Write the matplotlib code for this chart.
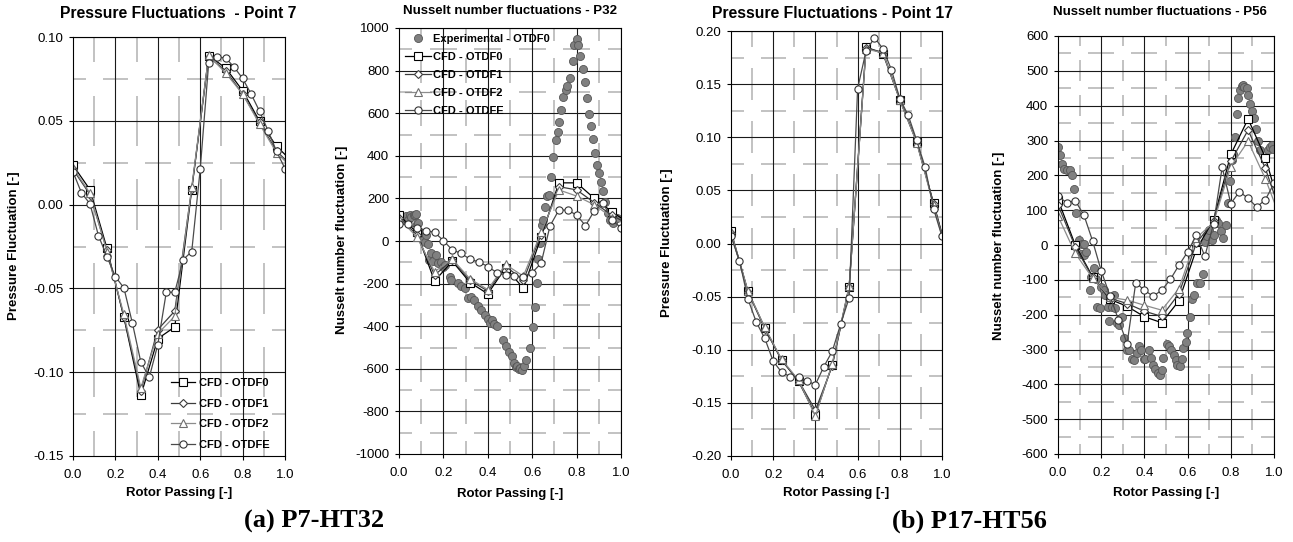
import numpy as np
import matplotlib
matplotlib.use("Agg")
import matplotlib.pyplot as plt
from matplotlib.collections import LineCollection

plt.rcParams['font.family'] = ['Liberation Sans', 'DejaVu Sans']

# ---------------- data ----------------
X_CFD = [0.00, 0.08, 0.16, 0.24, 0.32, 0.40, 0.48, 0.56, 0.64, 0.72, 0.80, 0.88, 0.96, 1.04]
X_E = [0.00, 0.04, 0.08, 0.12, 0.16, 0.20, 0.24, 0.28, 0.32, 0.36, 0.40, 0.44, 0.48,
       0.52, 0.56, 0.60, 0.64, 0.68, 0.72, 0.76, 0.80, 0.84, 0.88, 0.92, 0.96, 1.00]

# Panel 1: Pressure fluctuations - Point 7
P7_OTDF0 = [0.0235, 0.0089, -0.0260, -0.0672, -0.1139, -0.0800, -0.0730, 0.0089, 0.0889, 0.0815, 0.0680, 0.0497, 0.0348, 0.0250]
P7_OTDF1 = [0.0210, 0.0060, -0.0270, -0.0670, -0.1110, -0.0746, -0.0635, 0.0095, 0.0880, 0.0800, 0.0660, 0.0490, 0.0320, 0.0220]
P7_OTDF2 = [0.0220, 0.0068, -0.0280, -0.0655, -0.1093, -0.0770, -0.0666, 0.0103, 0.0890, 0.0785, 0.0660, 0.0480, 0.0310, 0.0210]
P7_OTDFE = [0.0195, 0.0070, 0.0005, -0.0185, -0.0310, -0.0430, -0.0497, -0.0706, -0.0940, -0.1030, -0.0835, -0.0523, -0.0523,
            -0.0328, -0.0280, 0.0210, 0.0845, 0.0880, 0.0875, 0.0820, 0.0753, 0.0660, 0.0557, 0.0441, 0.0318, 0.0215]

# Panel 2: Nusselt number fluctuations - P32
P32_EXP_X = [0.000, 0.021, 0.030, 0.041, 0.051, 0.056, 0.066, 0.071, 0.075, 0.081, 0.086, 0.093, 0.104, 0.108, 0.116, 0.120,
             0.131, 0.135, 0.146, 0.153, 0.168, 0.176, 0.191, 0.200, 0.206, 0.229, 0.236, 0.266, 0.281, 0.296, 0.311, 0.326,
             0.337, 0.356, 0.371, 0.386, 0.402, 0.410, 0.417, 0.427, 0.442, 0.469, 0.481, 0.496, 0.507, 0.517, 0.525, 0.532,
             0.540, 0.547, 0.552, 0.562, 0.574, 0.589, 0.605, 0.612, 0.620, 0.627, 0.635, 0.642, 0.648, 0.659, 0.667, 0.674,
             0.684, 0.695, 0.705, 0.714, 0.722, 0.728, 0.740, 0.750, 0.759, 0.770, 0.782, 0.790, 0.800, 0.808, 0.815, 0.827,
             0.838, 0.845, 0.857, 0.865, 0.875, 0.883, 0.890, 0.900, 0.908, 0.917, 0.928, 0.943, 0.950, 0.965, 0.980]
P32_EXP_Y = [114, 106, 117, 98, 122, 111, 122, 122, 125, 80, 86, 44, 20, 5, -3, 30,
             -14, -89, -58, -92, -66, -105, -97, -120, -112, -167, -183, -198, -211, -222, -269, -264,
             -277, -305, -323, -347, -367, -385, -370, -389, -398, -464, -495, -519, -542, -573, -590, -589,
             -600, -597, -605, -586, -558, -503, -402, -311, -198, -86, -11, 75, 100, 161, 211, 216,
             302, 395, 473, 513, 559, 614, 677, 708, 727, 767, 845, 919, 947, 919, 867, 809,
             747, 673, 598, 539, 477, 411, 356, 317, 278, 234, 184, 130, 98, 86, 106]
P32_OTDF0 = [122, 40, -188, -95, -195, -248, -125, -222, 17, 273, 273, 200, 137, 80]
P32_OTDF1 = [110, 30, -160, -90, -185, -235, -118, -185, 30, 255, 240, 180, 120, 75]
P32_OTDF2 = [105, 20, -144, -85, -178, -228, -110, -165, 40, 240, 211, 170, 110, 70]
P32_OTDFE = [78, 78, 62, 48, 41, 2, -42, -58, -86, -98, -120, -148, -159,
             -164, -167, -148, -105, 70, 145, 145, 122, 72, 142, 177, 98, 62]

# Panel 3: Pressure fluctuations - Point 17
P17_OTDF0 = [0.0116, -0.0449, -0.0794, -0.1096, -0.1297, -0.1610, -0.1140, -0.0405, 0.1850, 0.1787, 0.1353, 0.0954, 0.0380, -0.0200]
P17_OTDF1 = [0.0100, -0.0455, -0.0800, -0.1100, -0.1290, -0.1570, -0.1150, -0.0410, 0.1840, 0.1800, 0.1360, 0.0960, 0.0370, -0.0210]
P17_OTDF2 = [0.0110, -0.0445, -0.0790, -0.1090, -0.1285, -0.1625, -0.1130, -0.0400, 0.1830, 0.1795, 0.1350, 0.0950, 0.0360, -0.0215]
P17_OTDFE = [0.0066, -0.0160, -0.0521, -0.0741, -0.0892, -0.1108, -0.1212, -0.1253, -0.1259, -0.1297, -0.1328, -0.1159, -0.1014,
             -0.0757, -0.0512, 0.1457, 0.1812, 0.1937, 0.1834, 0.1636, 0.1363, 0.1206, 0.0970, 0.0719, 0.0327, 0.0066]

# Panel 4: Nusselt number fluctuations - P56
P56_EXP_X = [0.000, 0.008, 0.020, 0.029, 0.042, 0.054, 0.066, 0.075, 0.085, 0.096, 0.106, 0.111, 0.119, 0.122, 0.131, 0.146,
             0.152, 0.165, 0.177, 0.180, 0.193, 0.199, 0.211, 0.219, 0.230, 0.234, 0.250, 0.257, 0.262, 0.273, 0.284, 0.296,
             0.307, 0.319, 0.331, 0.342, 0.353, 0.365, 0.373, 0.384, 0.396, 0.404, 0.419, 0.431, 0.439, 0.450, 0.461, 0.470,
             0.481, 0.488, 0.504, 0.515, 0.524, 0.535, 0.547, 0.553, 0.565, 0.573, 0.581, 0.592, 0.599, 0.612, 0.619, 0.630,
             0.643, 0.658, 0.673, 0.681, 0.692, 0.701, 0.712, 0.720, 0.732, 0.743, 0.753, 0.766, 0.778, 0.786, 0.797, 0.804,
             0.812, 0.820, 0.827, 0.835, 0.843, 0.850, 0.857, 0.863, 0.874, 0.881, 0.889, 0.900, 0.907, 0.917, 0.928, 0.935,
             0.971, 0.982, 0.992, 0.997]
P56_EXP_Y = [280, 259, 233, 218, 216, 214, 200, 161, 92, 15, -25, 4, -30, 2, -20, -129,
             -91, -65, -99, -177, -182, -122, -130, -144, -179, -218, -177, -144, -182, -225, -230, -206,
             -268, -300, -302, -326, -331, -311, -290, -302, -326, -326, -300, -323, -345, -357, -367, -373,
             -359, -323, -285, -291, -302, -316, -329, -345, -348, -326, -297, -278, -254, -206, -156, -144,
             -110, -108, -84, 10, 25, 44, 14, 30, 72, 62, 41, 20, 56, 120, 184, 245,
             260, 310, 375, 423, 446, 456, 459, 455, 452, 430, 404, 385, 364, 333, 298, 272,
             274, 281, 286, 277]
P56_OTDF0 = [130, 0, -91, -156, -176, -206, -223, -160, -13, 72, 260, 362, 251, 80]
P56_OTDF1 = [115, -5, -93, -153, -168, -190, -205, -140, 5, 68, 240, 330, 220, 75]
P56_OTDF2 = [83, -24, -95, -150, -158, -173, -187, -125, 20, 65, 225, 298, 190, 60]
P56_OTDFE = [141, 121, 127, 86, 12, -74, -145, -215, -283, -108, -130, -147, -130,
             -99, -58, -20, 28, -32, 60, 223, 119, 153, 134, 109, 130, 177]

X_TICKS = [0.0, 0.2, 0.4, 0.6, 0.8, 1.0]
X_TICKLABELS = ['0.0', '0.2', '0.4', '0.6', '0.8', '1.0']
P7_YTICKS = [-0.15, -0.10, -0.05, 0.00, 0.05, 0.10]
P7_YTICKLABELS = ['-0.15', '-0.10', '-0.05', '0.00', '0.05', '0.10']
P32_YTICKS = [-1000, -800, -600, -400, -200, 0, 200, 400, 600, 800, 1000]
P32_YTICKLABELS = ['-1000', '-800', '-600', '-400', '-200', '0', '200', '400', '600', '800', '1000']
P17_YTICKS = [-0.20, -0.15, -0.10, -0.05, 0.00, 0.05, 0.10, 0.15, 0.20]
P17_YTICKLABELS = ['-0.20', '-0.15', '-0.10', '-0.05', '0.00', '0.05', '0.10', '0.15', '0.20']
P56_YTICKS = [-600, -500, -400, -300, -200, -100, 0, 100, 200, 300, 400, 500, 600]
P56_YTICKLABELS = ['-600', '-500', '-400', '-300', '-200', '-100', '0', '100', '200', '300', '400', '500', '600']

LABELS = ['Experimental - OTDF0', 'CFD - OTDF0', 'CFD - OTDF1', 'CFD - OTDF2', 'CFD - OTDFE']

# ---------------- figure ----------------
W, H = 1293, 542
fig = plt.figure(figsize=(W / 100, H / 100), dpi=100)


def add_ax(l, r, t, b):
    return fig.add_axes([l / W, 1 - b / H, (r - l) / W, (b - t) / H])


def ftext(x, y, s, **kw):
    return fig.text(x / W, 1 - y / H, s, **kw)


def style_axes(ax, yticks, yticklabels):
    ax.set_xlim(0, 1)
    ax.set_ylim(yticks[0], yticks[-1])
    ax.set_xticks(X_TICKS)
    ax.set_xticklabels(X_TICKLABELS)
    ax.set_yticks(yticks)
    ax.set_yticklabels(yticklabels)
    ax.tick_params(direction='out', length=3, width=0.8, labelsize=9.5, colors='black')
    ax.tick_params(axis='x', pad=6)
    ax.tick_params(axis='y', pad=4)
    for s in ax.spines.values():
        s.set_color('black')
        s.set_linewidth(0.8)
        s.set_zorder(3)
    for x in X_TICKS[1:]:
        ax.axvline(x, color='#1a1a1a', lw=0.8, zorder=0.6)
    for y in yticks[1:]:
        ax.axhline(y, color='#1a1a1a', lw=0.8, zorder=0.6)
    dx = X_TICKS[1] - X_TICKS[0]
    dy = yticks[1] - yticks[0]
    xmin_lines = [x + dx / 2 for x in X_TICKS[:-1]]
    ymin_lines = [y + dy / 2 for y in yticks[:-1]]
    segs = []
    for xm in xmin_lines:
        for yM in yticks:
            segs.append([(xm, max(yM - dy * 0.3, yticks[0])), (xm, min(yM + dy * 0.3, yticks[-1]))])
    for ym in ymin_lines:
        for xM in X_TICKS:
            segs.append([(max(xM - dx * 0.3, 0), ym), (min(xM + dx * 0.3, 1), ym)])
    ax.add_collection(LineCollection(segs, colors='#b8b8b8', linewidths=1.2, zorder=0.4))


STY = {
    'OTDF0': dict(marker='s', color='black', mfc='white', mec='black'),
    'OTDF1': dict(marker='D', color='#3c3c3c', mfc='white', mec='#3c3c3c', ms=4.2),
    'OTDF2': dict(marker='^', color='#8c8c8c', mfc='white', mec='#6e6e6e'),
    'OTDFE': dict(marker='o', color='#4a4a4a', mfc='white', mec='#333333'),
}


def plot_cfd(ax, s0, s1, s2, sE):
    hs = []
    for key, ys, xs in (('OTDF0', s0, X_CFD), ('OTDF1', s1, X_CFD), ('OTDF2', s2, X_CFD), ('OTDFE', sE, X_E)):
        st = dict(ms=5.2, lw=0.9, mew=0.8)
        st.update(STY[key])
        h, = ax.plot(xs, ys, zorder=2, **st)
        hs.append(h)
    return hs


def plot_exp(ax, xs, ys):
    h, = ax.plot(xs, ys, ls='none', marker='o', ms=5.8, mfc='#808080', mec='#555555', mew=0.6, zorder=1.8)
    return h


BOLD = dict(fontweight='bold')

# Panel 1
ax1 = add_ax(73, 285, 37, 456)
style_axes(ax1, P7_YTICKS, P7_YTICKLABELS)
hs1 = plot_cfd(ax1, P7_OTDF0, P7_OTDF1, P7_OTDF2, P7_OTDFE)
ax1.legend(hs1, LABELS[1:], loc='upper left', bbox_to_anchor=(171 / W, 1 - 378 / H),
           bbox_transform=fig.transFigure, frameon=False, prop=dict(size=8, weight='bold'),
           handlelength=2.2, handletextpad=0.3, labelspacing=0.95, borderpad=0, borderaxespad=0, numpoints=1)
ftext(178, 14, 'Pressure Fluctuations  - Point 7', fontsize=11.3, ha='center', va='center', **BOLD)
ftext(14, 246, 'Pressure Fluctuation [-]', fontsize=9.5, rotation=90, ha='center', va='center', **BOLD)
ftext(179, 493, 'Rotor Passing [-]', fontsize=9.5, ha='center', va='center', **BOLD)

# Panel 2
ax2 = add_ax(399, 621, 28, 454)
style_axes(ax2, P32_YTICKS, P32_YTICKLABELS)
he2 = plot_exp(ax2, P32_EXP_X, P32_EXP_Y)
hs2 = plot_cfd(ax2, P32_OTDF0, P32_OTDF1, P32_OTDF2, P32_OTDFE)
ax2.legend([he2] + hs2, LABELS, loc='upper left', bbox_to_anchor=(405 / W, 1 - 34 / H),
           bbox_transform=fig.transFigure, frameon=False, prop=dict(size=8, weight='bold'),
           handlelength=2.3, handletextpad=0.25, labelspacing=0.72, borderpad=0, borderaxespad=0, numpoints=1)
ftext(510, 11, 'Nusselt number fluctuations - P32', fontsize=9.5, ha='center', va='center', **BOLD)
ftext(342, 240, 'Nusselt number fluctuation [-]', fontsize=9.5, rotation=90, ha='center', va='center', **BOLD)
ftext(510, 494, 'Rotor Passing [-]', fontsize=9.5, ha='center', va='center', **BOLD)

# Panel 3
ax3 = add_ax(731, 942, 31, 456)
style_axes(ax3, P17_YTICKS, P17_YTICKLABELS)
plot_cfd(ax3, P17_OTDF0, P17_OTDF1, P17_OTDF2, P17_OTDFE)
ftext(832, 14, 'Pressure Fluctuations - Point 17', fontsize=11.3, ha='center', va='center', **BOLD)
ftext(667, 243, 'Pressure Fluctuation [-]', fontsize=9.5, rotation=90, ha='center', va='center', **BOLD)
ftext(836, 493, 'Rotor Passing [-]', fontsize=9.5, ha='center', va='center', **BOLD)

# Panel 4
ax4 = add_ax(1058, 1274, 36, 454)
style_axes(ax4, P56_YTICKS, P56_YTICKLABELS)
plot_exp(ax4, P56_EXP_X, P56_EXP_Y)
plot_cfd(ax4, P56_OTDF0, P56_OTDF1, P56_OTDF2, P56_OTDFE)
ftext(1160, 12, 'Nusselt number fluctuations - P56', fontsize=9.5, ha='center', va='center', **BOLD)
ftext(999, 246, 'Nusselt number fluctuation [-]', fontsize=9.5, rotation=90, ha='center', va='center', **BOLD)
ftext(1166, 493, 'Rotor Passing [-]', fontsize=9.5, ha='center', va='center', **BOLD)

# captions
SERIF = ['Liberation Serif', 'DejaVu Serif']
ftext(314, 521, '(a) P7-HT32', fontsize=19, fontweight='bold', family=SERIF, ha='center', va='center')
ftext(969, 521, '(b) P17-HT56', fontsize=19, fontweight='bold', family=SERIF, ha='center', va='center')

fig.savefig('out.png', dpi=100)
